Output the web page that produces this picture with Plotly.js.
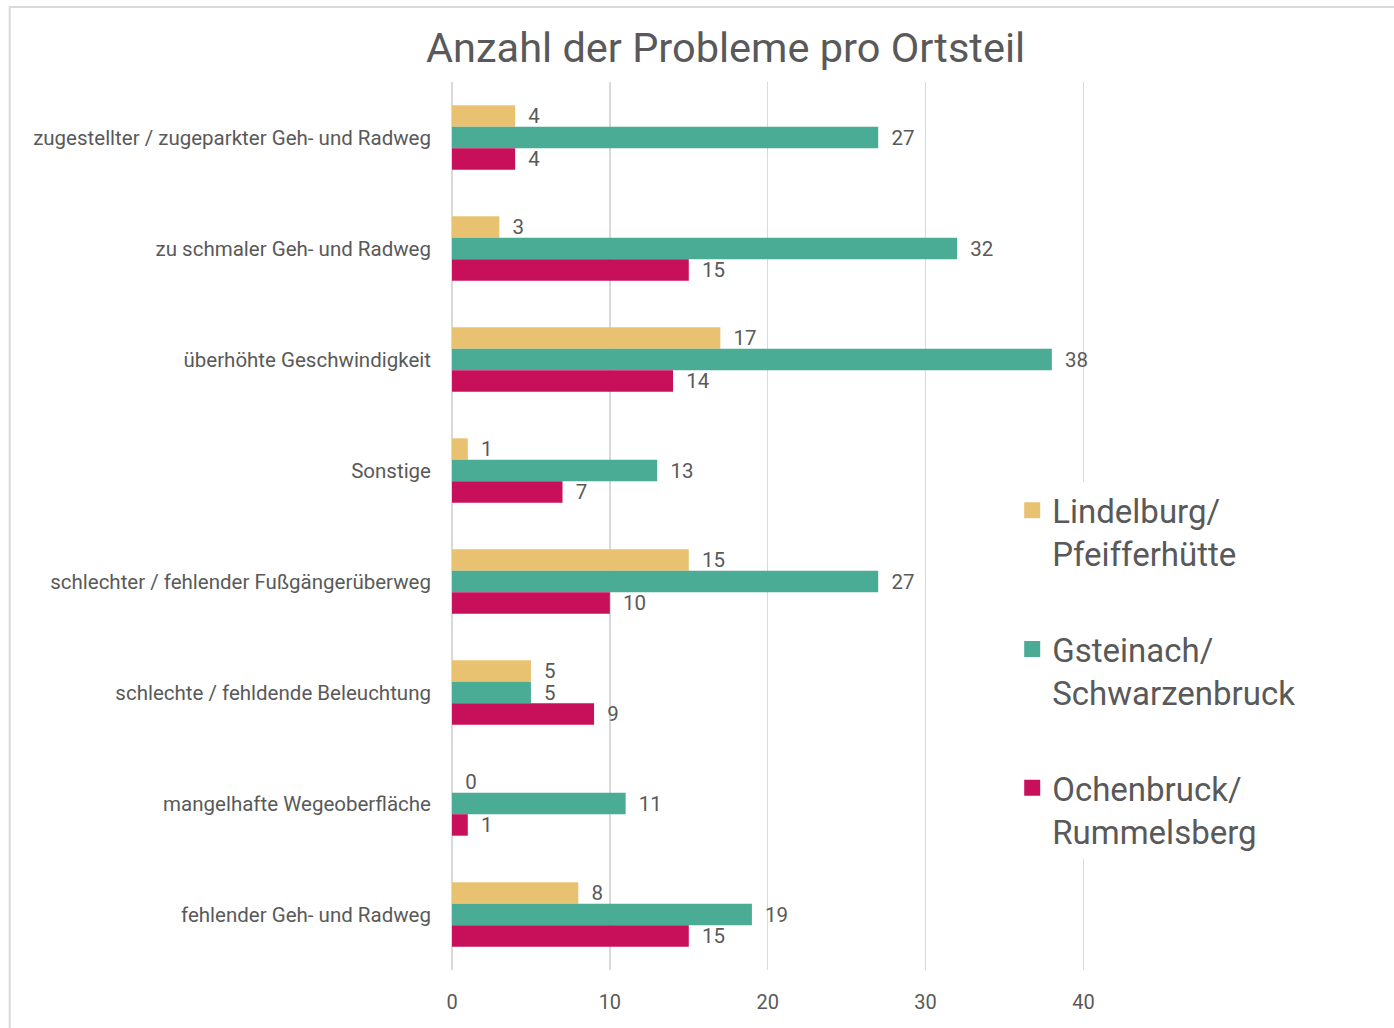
<!DOCTYPE html>
<html>
<head>
<meta charset="utf-8">
<script src="https://cdn.plot.ly/plotly-3.0.1.min.js"></script>
<style>html,body{margin:0;padding:0;background:#fff;}#chart{width:1394px;height:1028px;}</style>
</head>
<body>
<div id="chart"></div>
<script>
const categories = [
  "zugestellter / zugeparkter Geh- und Radweg",
  "zu schmaler Geh- und Radweg",
  "überhöhte Geschwindigkeit",
  "Sonstige",
  "schlechter / fehlender Fußgängerüberweg",
  "schlechte / fehldende Beleuchtung",
  "mangelhafte Wegeoberfläche",
  "fehlender Geh- und Radweg"
];
const seriesNames = ["Lindelburg/<br>Pfeifferhütte", "Gsteinach/<br>Schwarzenbruck", "Ochenbruck/<br>Rummelsberg"];
const lindelburg = [4, 3, 17, 1, 15, 5, 0, 8];
const gsteinach = [27, 32, 38, 13, 27, 5, 11, 19];
const ochenbruck = [4, 15, 14, 7, 10, 9, 1, 15];
const xTicks = [0, 10, 20, 30, 40];

const colors = ["#E8C270", "#4BAC96", "#C8105A"];
const values = [lindelburg, gsteinach, ochenbruck];
const font = "Roboto, 'Noto Sans', sans-serif";
const textColor = "#595959";

const barTraces = values.map((v, i) => ({
  type: "bar",
  orientation: "h",
  name: seriesNames[i],
  y: categories,
  x: v,
  marker: {color: colors[i]},
  texttemplate: "\u00a0\u00a0%{x}",
  textposition: "outside",
  constraintext: "none",
  cliponaxis: false,
  textfont: {family: font, size: 20.5, color: textColor},
  legendgroup: "g" + i,
  showlegend: false,
  hoverinfo: "x+name"
}));

// legend entries with larger square swatches
const legendTraces = values.map((v, i) => ({
  type: "scatter",
  mode: "markers",
  name: seriesNames[i],
  x: [null],
  y: [null],
  marker: {symbol: "square", size: 20, color: colors[i]},
  legendgroup: "g" + i,
  showlegend: true,
  hoverinfo: "skip"
}));

const layout = {
  width: 1394,
  height: 1028,
  paper_bgcolor: "#ffffff",
  plot_bgcolor: "#ffffff",
  margin: {l: 452, r: 309.4, t: 82, b: 58},
  font: {family: font, color: textColor},
  title: {
    text: "Anzahl der Probleme pro Ortsteil",
    font: {family: font, size: 41.5, color: textColor},
    x: 0.5205, xanchor: "center",
    y: 1 - 47 / 1028, yanchor: "middle", xref: "container", yref: "container"
  },
  barmode: "group",
  bargap: 0.42,
  bargroupgap: 0,
  xaxis: {
    range: [0, 40.1],
    tickvals: xTicks,
    showgrid: true,
    gridcolor: "#d9d9d9",
    gridwidth: 1.5,
    zeroline: true,
    zerolinecolor: "#d9d9d9",
    zerolinewidth: 1.5,
    showline: false,
    ticks: "",
    ticklabelstandoff: 18,
    tickfont: {family: font, size: 20, color: textColor},
    fixedrange: true
  },
  yaxis: {
    type: "category",
    autorange: "reversed",
    showgrid: false,
    showline: false,
    zeroline: false,
    ticks: "",
    ticklabelstandoff: 20,
    tickfont: {family: font, size: 20.5, color: textColor},
    fixedrange: true
  },
  showlegend: true,
  legend: {
    x: 0.885, xanchor: "left",
    y: 0.337, yanchor: "middle",
    bgcolor: "#ffffff",
    borderwidth: 0,
    font: {family: font, size: 33, color: textColor},
    traceorder: "grouped",
    tracegroupgap: 50,
    itemwidth: 30,
    itemsizing: "trace",
    valign: "top"
  },
  shapes: [{
    type: "rect", xref: "paper", yref: "paper",
    x0: (10 - 452) / 632.6, x1: (1400 - 452) / 632.6,
    y0: (970 - 1040) / 888, y1: (970 - 7) / 888,
    line: {color: "#d9d9d9", width: 2},
    fillcolor: "rgba(0,0,0,0)",
    layer: "below"
  }]
};

Plotly.newPlot("chart", barTraces.concat(legendTraces), layout, {displayModeBar: false, staticPlot: true});
</script>
</body>
</html>
